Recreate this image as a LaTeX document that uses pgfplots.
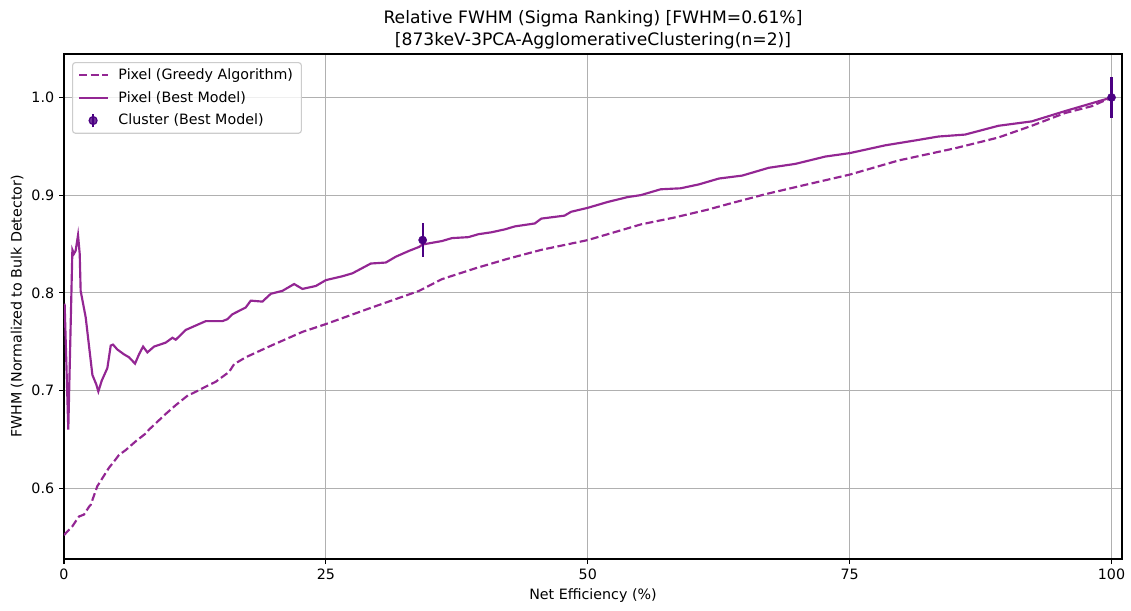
\documentclass[border=0pt]{standalone}
\usepackage{fontspec}
\setmainfont{DejaVu Sans}
\usepackage{pgfplots}
\pgfplotsset{compat=1.18}
\definecolor{lineP}{RGB}{147,38,147}
\definecolor{indigoC}{RGB}{75,0,130}
\definecolor{gridC}{HTML}{B0B0B0}
\begin{document}
\begin{tikzpicture}
\path[use as bounding box] (-46.08bp,-36.72bp) rectangle (768.24bp,402.48bp);
\begin{axis}[
  at={(0,0)}, anchor=south west,
  scale only axis, width=761.76bp, height=363.6bp,
  xmin=0, xmax=101, ymin=0.5275, ymax=1.0445,
  xtick={0,25,50,75,100}, ytick={0.6,0.7,0.8,0.9,1.0},
  y tick label style={/pgf/number format/.cd, fixed, fixed zerofill, precision=1, /tikz/.cd},
  /pgf/number format/assume math mode=true,
  grid=major, grid style={gridC, line width=0.8bp},
  axis line style={line width=0.8bp},
  tick align=outside, major tick length=3.6bp, tick style={black, line width=0.8bp},
  xtick pos=bottom, ytick pos=left,
  tick label style={font=\fontsize{10.3}{12}\selectfont},
  title={Relative FWHM (Sigma Ranking) [FWHM=0.61\%]\\{}[873keV-3PCA-AgglomerativeClustering(n=2)]},
  title style={at={(axis description cs:0.5,1)}, anchor=south, yshift=-2.6bp, align=center, inner sep=0pt, font=\fontsize{12.4}{15.8}\selectfont},
  xlabel={Net Efficiency (\%)},
  xlabel style={at={(axis description cs:0.5,0)}, anchor=center, yshift=-26.6bp, font=\fontsize{10.3}{12}\selectfont},
  ylabel={FWHM (Normalized to Bulk Detector)},
  every axis y label/.style={at={(axis description cs:0,0.5)}, rotate=90, anchor=center, yshift=33.8bp, font=\fontsize{10.3}{12}\selectfont},
  legend style={at={(0.0076,0.984)}, anchor=north west, draw=black!20, rounded corners=2bp, line width=0.8bp, fill=white, fill opacity=0.8, text opacity=1, font=\fontsize{10.3}{12}\selectfont, inner xsep=4bp, inner ysep=2.5bp, row sep=3bp, column sep=5bp, cells={anchor=west}},
]
\addplot[lineP, line width=1.55bp, dash pattern=on 5.7bp off 2.5bp,
  legend image code/.code={\draw[lineP, line width=1.55bp, dash pattern=on 5.7bp off 2.5bp] (0bp,0bp) -- (20.5bp,0bp);}]
 table {
x y
0.00 0.552
0.80 0.561
1.43 0.571
1.91 0.573
2.39 0.581
2.55 0.583
3.18 0.602
4.30 0.621
4.61 0.625
5.25 0.634
5.89 0.639
6.85 0.648
7.80 0.656
8.12 0.660
9.71 0.676
10.67 0.685
11.94 0.696
12.26 0.697
13.54 0.704
14.49 0.709
15.76 0.719
16.24 0.727
17.35 0.734
19.58 0.745
22.76 0.760
25.00 0.768
29.13 0.784
33.90 0.802
36.08 0.814
39.24 0.825
42.41 0.835
45.57 0.844
50.00 0.854
51.90 0.860
55.06 0.870
58.23 0.877
61.40 0.885
63.79 0.892
66.97 0.901
70.15 0.909
75.00 0.921
79.67 0.9355
85.07 0.948
89.20 0.959
92.38 0.971
95.55 0.984
98.10 0.991
100.00 1.000
};
\addlegendentry{Pixel (Greedy Algorithm)}
\addplot[lineP, line width=1.55bp,
  legend image code/.code={\draw[lineP, line width=1.55bp] (0bp,0bp) -- (20.5bp,0bp);}]
 table {
x y
0.06 0.789
0.41 0.660
0.80 0.844
0.95 0.840
1.11 0.843
1.34 0.859
1.50 0.840
1.59 0.802
2.07 0.775
2.71 0.716
3.09 0.706
3.28 0.699
3.60 0.710
4.14 0.723
4.46 0.746
4.68 0.747
5.09 0.742
5.73 0.737
6.21 0.734
6.78 0.7275
7.16 0.737
7.55 0.745
7.96 0.739
8.60 0.745
9.71 0.749
10.35 0.754
10.67 0.752
11.62 0.762
12.89 0.768
13.53 0.771
15.12 0.771
15.60 0.773
16.07 0.778
17.35 0.785
17.83 0.792
18.94 0.791
19.74 0.799
20.85 0.802
21.97 0.809
22.76 0.804
24.04 0.807
25.00 0.813
26.59 0.817
27.54 0.820
29.29 0.830
30.72 0.831
31.68 0.837
32.95 0.843
33.90 0.847
34.24 0.8495
36.08 0.853
37.03 0.856
38.60 0.857
39.56 0.860
40.82 0.862
42.10 0.865
43.04 0.868
44.94 0.871
45.57 0.876
47.78 0.879
48.42 0.883
50.00 0.887
51.90 0.893
53.80 0.898
55.06 0.900
56.96 0.906
58.86 0.907
60.61 0.911
62.52 0.917
64.74 0.920
67.28 0.928
69.82 0.932
72.68 0.9395
75.00 0.943
78.40 0.951
81.26 0.956
83.48 0.960
86.02 0.962
89.20 0.971
92.38 0.9755
95.55 0.986
98.10 0.994
100.00 1.000
};
\addlegendentry{Pixel (Best Model)}
\addplot[indigoC, only marks, mark=*, mark size=2.9bp, mark options={fill=indigoC, draw=indigoC},
  legend image code/.code={\draw[indigoC, line width=1.5bp] (10bp,-5bp) -- (10bp,5bp); \fill[indigoC] (10bp,0bp) circle (2.9bp);},
  error bars/.cd, y dir=both, y explicit, error mark=none, error bar style={line width=1.5bp, indigoC}]
 coordinates {(34.24,0.854) +- (0,0.017) (100,1.0) +- (0,0.021)};
\addlegendentry{Cluster (Best Model)}
\end{axis}
\end{tikzpicture}
\end{document}
